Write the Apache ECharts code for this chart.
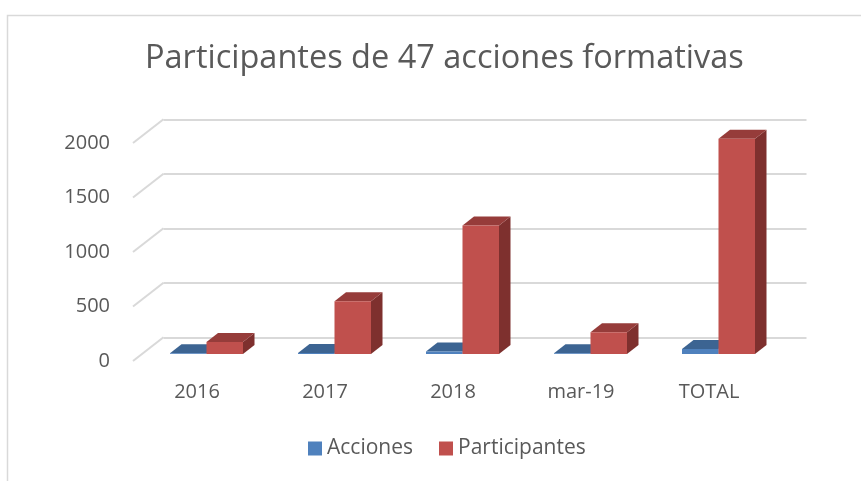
<!DOCTYPE html>
<html>
<head>
<meta charset="utf-8">
<script src="https://cdn.jsdelivr.net/npm/echarts@6/dist/echarts.min.js"></script>
<style>
  html, body { margin: 0; padding: 0; background: #fff; }
  #chart { width: 861px; height: 481px; }
</style>
</head>
<body>
<div id="chart"></div>
<script>
// datos
const categories = ['2016', '2017', '2018', 'mar-19', 'TOTAL'];
const acciones = [8, 10, 22, 7, 47];
const participantes = [110, 485, 1180, 200, 1975];
const yTicks = [0, 500, 1000, 1500, 2000];

const txt = '#595959';
const gridColor = '#d9d9d9';
const fontFam = '"Open Sans", sans-serif';

// profundidad de las barras (oblicua)
const BAR_DX = 11.5, BAR_DY = -9;
const BAR_W = 36.5;

const colors = {
  Acciones: { front: '#4F81BD', top: '#3C6492', side: '#385D8A' },
  Participantes: { front: '#C0504D', top: '#963C3A', side: '#7E302E' }
};

function barRenderer(name, side) {
  const c = colors[name];
  return function (params, api) {
    const base = api.coord([api.value(0), 0]);
    const top = api.coord([api.value(0), api.value(1)]);
    const x0 = side < 0 ? base[0] - BAR_W : base[0];
    const x1 = x0 + BAR_W;
    const yb = base[1], yt = top[1];
    return {
      type: 'group',
      children: [
        { type: 'polygon', shape: { points: [[x1, yt], [x1 + BAR_DX, yt + BAR_DY], [x1 + BAR_DX, yb + BAR_DY], [x1, yb]] }, style: { fill: c.side } },
        { type: 'polygon', shape: { points: [[x0, yt], [x1, yt], [x1 + BAR_DX, yt + BAR_DY], [x0 + BAR_DX, yt + BAR_DY]] }, style: { fill: c.top } },
        { type: 'rect', shape: { x: x0, y: yt, width: BAR_W, height: Math.max(yb - yt, 0.5) }, style: { fill: c.front } }
      ]
    };
  };
}

function yAx(idx, showLabel, showSplit) {
  return {
    type: 'value', gridIndex: idx, min: 0, max: 2000, interval: 500,
    axisLine: { show: false }, axisTick: { show: false },
    axisLabel: { show: showLabel, color: txt, fontSize: 20, fontFamily: fontFam, margin: 23, formatter: v => String(v) },
    splitLine: { show: showSplit, lineStyle: { color: gridColor, width: 2 } }
  };
}
function xAx(idx, showLabel) {
  return {
    type: 'category', gridIndex: idx, data: categories,
    axisLine: { show: false }, axisTick: { show: false },
    axisLabel: { show: showLabel, color: txt, fontSize: 20, fontFamily: fontFam, margin: 21 }
  };
}

const chart = echarts.init(document.getElementById('chart'));
chart.setOption({
  backgroundColor: '#fff',
  animation: false,
  graphic: [{
    type: 'rect', left: 5, top: 13, silent: true,
    shape: { width: 1000, height: 1000 },
    style: { fill: 'none', stroke: gridColor, lineWidth: 1.5 }
  }],
  title: {
    text: 'Participantes de 47 acciones formativas',
    left: 145, top: 42, padding: 0,
    textStyle: { color: txt, fontSize: 32.5, fontWeight: 'normal', fontFamily: fontFam }
  },
  legend: {
    data: ['Acciones', 'Participantes'],
    left: 308, top: 438, padding: 0,
    icon: 'rect', itemWidth: 14, itemHeight: 14, itemGap: 26,
    textStyle: { color: txt, fontSize: 21, fontFamily: fontFam }
  },
  grid: [
    { left: 142.5, top: 136, width: 640, height: 218 },   // cara frontal de barras
    { left: 163.5, top: 119.3, width: 643, height: 218 }, // pared del fondo
    { left: 133, top: 143, width: 640, height: 218 }      // borde frontal del suelo
  ],
  xAxis: [xAx(0, false), xAx(1, false), xAx(2, true)],
  yAxis: [yAx(0, false, false), yAx(1, false, true), yAx(2, true, false)],
  series: [
    {
      name: 'diag', type: 'custom', xAxisIndex: 2, yAxisIndex: 2, silent: true,
      data: yTicks.map(t => [0, t]),
      renderItem: function (params, api) {
        const p = api.coord([0, api.value(1)]);
        const x0 = p[0] - api.size([1, 0])[0] / 2;
        return {
          type: 'line',
          shape: { x1: x0, y1: p[1], x2: x0 + 30.5, y2: p[1] - 23.7 },
          style: { stroke: gridColor, lineWidth: 2 }
        };
      }
    },
    {
      name: 'Acciones', type: 'custom', xAxisIndex: 0, yAxisIndex: 0,
      itemStyle: { color: colors.Acciones.front },
      data: acciones.map((v, i) => [i, v]),
      renderItem: barRenderer('Acciones', -1)
    },
    {
      name: 'Participantes', type: 'custom', xAxisIndex: 0, yAxisIndex: 0,
      itemStyle: { color: colors.Participantes.front },
      data: participantes.map((v, i) => [i, v]),
      renderItem: barRenderer('Participantes', 1)
    }
  ]
});
</script>
</body>
</html>
